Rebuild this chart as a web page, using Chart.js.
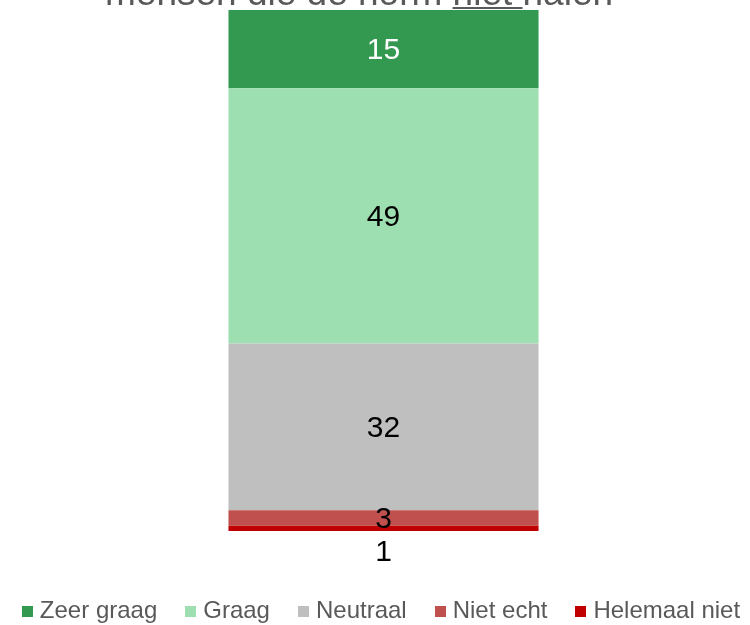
<!DOCTYPE html>
<html>
<head>
<meta charset="utf-8">
<script src="https://cdn.jsdelivr.net/npm/chart.js@4/dist/chart.umd.min.js"></script>
<style>
  html, body { margin: 0; padding: 0; background: #fff; }
  #frame { width: 750px; height: 625px; position: relative; overflow: hidden; }
  #wrap { width: 791px; height: 633px; position: absolute; left: -12px; top: 0; }
</style>
</head>
<body>
<div id="frame"><div id="wrap"><canvas id="chart"></canvas></div></div>
<script>
// bottom-to-top stacking order
const categories = ["mensen die de norm niet halen"];
const seriesNames = ["Helemaal niet", "Niet echt", "Neutraal", "Graag", "Zeer graag"];
const seriesValues = [1, 3, 32, 49, 15];
const seriesColors = ["#C00000", "#C0504D", "#BFBFBF", "#9DDFB0", "#339951"];
const labelColors = ["#000000", "#000000", "#000000", "#000000", "#FFFFFF"];
const yTicks = [0, 100];

const FONT = '"Liberation Sans", Arial, sans-serif';

// small square swatches for the legend
const swatch = color => {
  const c = document.createElement("canvas");
  c.width = 11;
  c.height = 11;
  const g = c.getContext("2d");
  g.fillStyle = color;
  g.fillRect(0, 0, 11, 11);
  return c;
};

const titlePlugin = {
  id: "titleLine",
  afterDraw(chart) {
    const ctx = chart.ctx;
    const before = "mensen die de norm ";
    const under = "niet";
    const after = " halen";
    ctx.save();
    ctx.font = "37px " + FONT;
    ctx.fillStyle = "#595959";
    ctx.textAlign = "left";
    ctx.textBaseline = "alphabetic";
    const x = 117, y = 5;
    ctx.fillText(before + under + after, x, y);
    const ux = x + ctx.measureText(before).width;
    const uw = ctx.measureText(under + " ").width;
    ctx.fillRect(ux, y + 2, uw, 2);
    ctx.restore();
  }
};

const valueLabels = {
  id: "valueLabels",
  afterDatasetsDraw(chart) {
    const ctx = chart.ctx;
    ctx.save();
    ctx.font = "30px " + FONT;
    ctx.textAlign = "center";
    ctx.textBaseline = "middle";
    chart.data.datasets.forEach((ds, i) => {
      const meta = chart.getDatasetMeta(i);
      meta.data.forEach((bar, j) => {
        const v = ds.data[j];
        const h = Math.abs(bar.base - bar.y);
        let y = (bar.y + bar.base) / 2 + 2;
        if (h < 10 && i === 0) y = bar.base + 22;
        ctx.fillStyle = labelColors[i];
        ctx.fillText(String(v), bar.x, y);
      });
    });
    ctx.restore();
  }
};

new Chart(document.getElementById("chart"), {
  type: "bar",
  data: {
    labels: categories,
    datasets: seriesNames.map((name, i) => ({
      label: name,
      data: [seriesValues[i]],
      backgroundColor: seriesColors[i],
      borderWidth: 0,
      barPercentage: 1,
      categoryPercentage: 0.392
    }))
  },
  options: {
    responsive: true,
    maintainAspectRatio: false,
    animation: false,
    layout: { padding: { top: 10, left: 0, right: 0, bottom: 0 } },
    scales: {
      x: {
        stacked: true,
        display: true,
        grid: { display: false },
        border: { display: false },
        ticks: { display: false },
        afterFit(scale) { scale.height = 35; }
      },
      y: {
        stacked: true,
        display: false,
        min: yTicks[0],
        max: yTicks[1]
      }
    },
    plugins: {
      title: { display: false },
      tooltip: { enabled: false },
      legend: {
        position: "bottom",
        reverse: true,
        labels: {
          usePointStyle: true,
          pointStyleWidth: 1,
          boxHeight: 11,
          padding: 33,
          color: "#595959",
          font: { size: 24, family: FONT },
          generateLabels(chart) {
            const items = Chart.defaults.plugins.legend.labels.generateLabels(chart);
            items.forEach(it => { it.pointStyle = swatch(seriesColors[it.datasetIndex]); });
            return items;
          }
        }
      }
    }
  },
  plugins: [titlePlugin, valueLabels]
});
</script>
</body>
</html>
